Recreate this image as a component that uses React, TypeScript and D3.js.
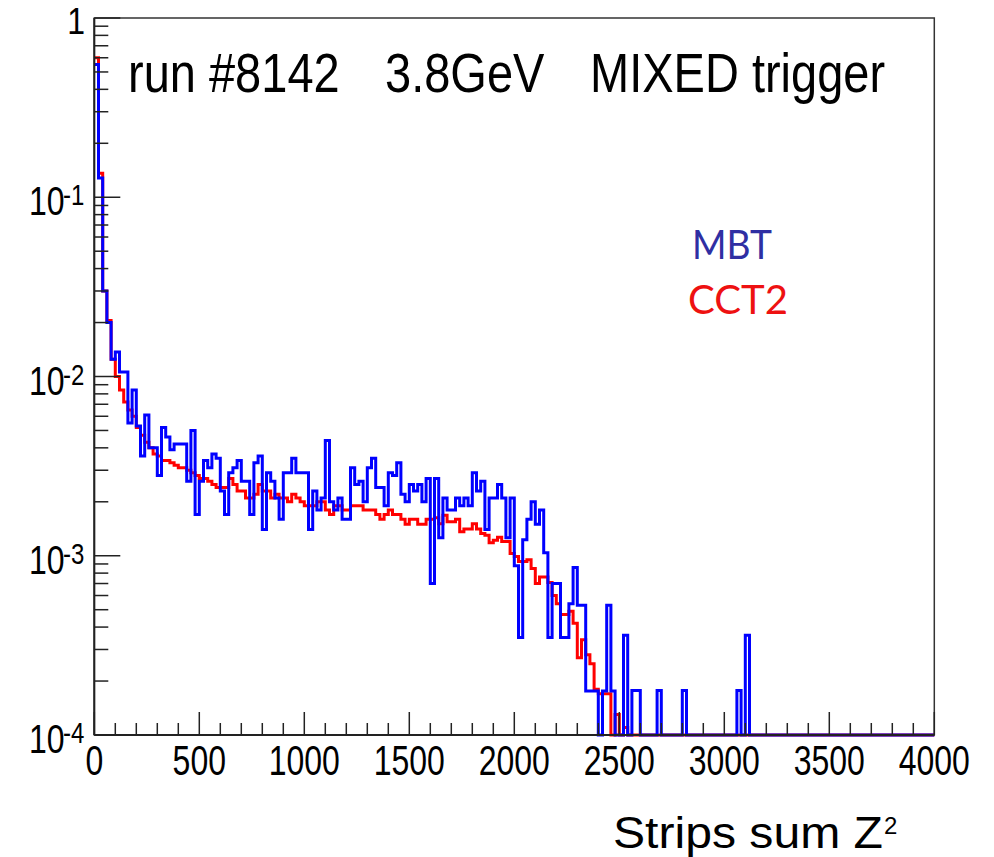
import React from "react";
import * as d3 from "d3";

// ---- data ----
const BIN_WIDTH = 20;
const X_MAX = 4000;
const X_MAJOR = [0, 500, 1000, 1500, 2000, 2500, 3000, 3500, 4000];
const Y_DECADES = [1, 0.1, 0.01, 0.001, 0.0001];
const Y_EXPONENTS = ["0", "-1", "-2", "-3", "-4"];
const TITLE_PARTS = ["run #8142", "3.8GeV", "MIXED trigger"];
const LEGEND = ["MBT", "CCT2"];

// MBT (blue), normalised counts per 20-unit bin starting at 0
const mbt = [
  0.55, 0.128, 0.030, 0.020, 0.0125, 0.0137, 0.0106, 0.0106, 0.0055, 0.0084,
  0.0053, 0.0036, 0.0061, 0.0040, 0.0040, 0.0028, 0.0052, 0.0046, 0.0039, 0.0042,
  0.0042, 0.0042, 0.0026, 0.0050, 0.0017, 0.0026, 0.0034, 0.0031, 0.0037, 0.0035,
  0.0023, 0.0017, 0.0029, 0.0031, 0.0034, 0.0026, 0.0026, 0.0017, 0.0033, 0.0036,
  0.0014, 0.0029, 0.0026, 0.0021, 0.0016, 0.0029, 0.0029, 0.0035, 0.0029, 0.0029,
  0.0029, 0.0014, 0.0023, 0.0018, 0.0021, 0.0044, 0.0020, 0.0018, 0.0021, 0.0016,
  0.0016, 0.0031, 0.0025, 0.0026, 0.0020, 0.0031, 0.0035, 0.0024, 0.0024, 0.0019,
  0.0029, 0.0028, 0.0033, 0.0022, 0.0020, 0.0025, 0.0023, 0.0025, 0.0020, 0.0027,
  0.00070, 0.0027, 0.00126, 0.0021, 0.0018, 0.0018, 0.0021, 0.0019, 0.0021, 0.0019,
  0.0029, 0.0023, 0.0026, 0.0014, 0.0021, 0.0021, 0.0025, 0.0021, 0.00126, 0.0021,
  0.00088, 0.00035, 0.00123, 0.0016, 0.0020, 0.0015, 0.0018, 0.00104, 0.00035, 0.00070,
  0.00070, 0.00035, 0.00035, 0.00054, 0.00086, 0.00053, 0.00053, 0.000176, 0.000176, 0.000176,
  0, 0.000176, 0.00053, 0.000176, 0, 0, 0.00036, 0, 0.000177, 0.000177,
  0, 0, 0, 0, 0.000177, 0, 0, 0, 0, 0,
  0.000177, 0, 0, 0, 0, 0, 0, 0, 0, 0,
  0, 0, 0, 0.000177, 0, 0.00036, 0,
];

// CCT2 (red)
const cct2 = [
  0.60, 0.136, 0.030, 0.0205, 0.0125, 0.0100, 0.0084, 0.0072, 0.0065, 0.0060,
  0.0052, 0.0047, 0.0043, 0.0040, 0.0037, 0.0036, 0.0034, 0.0034, 0.0033, 0.0032,
  0.0031, 0.0031, 0.0030, 0.0029, 0.0028, 0.0027, 0.0027, 0.0026, 0.0025, 0.0024,
  0.0024, 0.0024, 0.0027, 0.0025, 0.0023, 0.0023, 0.0021, 0.0021, 0.0022, 0.0025,
  0.0023, 0.0023, 0.0021, 0.0022, 0.0021, 0.0021, 0.0020, 0.0022, 0.0021, 0.0020,
  0.0019, 0.0019, 0.0019, 0.0020, 0.0020, 0.0018, 0.0017, 0.0019, 0.0019, 0.0018,
  0.0018, 0.0019, 0.0019, 0.0019, 0.0018, 0.0018, 0.0018, 0.0017, 0.0016, 0.0017,
  0.0018, 0.0017, 0.0017, 0.0016, 0.0015, 0.0016, 0.0016, 0.0015, 0.0015, 0.0016,
  0.0016, 0.00163, 0.00151, 0.00168, 0.00155, 0.00155, 0.0016, 0.00136, 0.00141, 0.00141,
  0.00151, 0.00141, 0.00133, 0.0013, 0.00118, 0.00122, 0.00127, 0.0012, 0.0012, 0.00103,
  0.00099, 0.00093, 0.00093, 0.00095, 0.00085, 0.00070, 0.00076, 0.00076, 0.00071, 0.00060,
  0.00054, 0.00047, 0.00047, 0.00049, 0.00042, 0.00027, 0.00034, 0.00028, 0.00025, 0.00018,
  0.00017, 0.00017, 0.00017, 0, 0.00013, 0, 0.00011, 0,
];

const W = 994;
const H = 857;
const FONT = "'Liberation Sans', Arial, Helvetica, sans-serif";

function StretchText({ x, y, k = 1, children, ...rest }: any) {
  return (
    <text transform={`translate(${x},${y}) scale(1,${k})`} {...rest}>
      {children}
    </text>
  );
}

export default function App() {
  const x = d3.scaleLinear().domain([0, X_MAX]).range([94.3, 934.3]);
  const y = d3.scaleLog().domain([1e-4, 1]).range([735, 18]);
  const floor = 1e-4;

  const histPath = (vals: number[]) => {
    const pts: [number, number][] = [];
    vals.forEach((v, i) => {
      const vv = Math.max(v, floor);
      pts.push([x(i * BIN_WIDTH), y(vv)]);
      pts.push([x((i + 1) * BIN_WIDTH), y(vv)]);
    });
    pts.push([x(X_MAX), y(floor)]);
    return d3.line()(pts) as string;
  };

  const xMinor = d3.range(0, X_MAX + 1, 100);
  const yMinor: number[] = [];
  Y_DECADES.slice(1).forEach((d) => {
    for (let m = 2; m <= 9; m++) yMinor.push(d * m);
  });

  const [x0, x1] = x.range();
  const [yb, yt] = y.range();

  return (
    <svg
      width={W}
      height={H}
      style={{ position: "absolute", left: 0, top: 0, background: "#fff" }}
      fontFamily={FONT}
    >
      <rect x={0} y={0} width={W} height={H} fill="#fff" />
      {/* histograms */}
      <path d={histPath(cct2)} fill="none" stroke="#ff0000" strokeWidth={3} />
      <path d={histPath(mbt)} fill="none" stroke="#0000ff" strokeWidth={3} />

      {/* frame */}
      <rect x={x0} y={yt} width={x1 - x0} height={yb - yt} fill="none" stroke="#333" strokeWidth={1.5} />
      <line x1={x0} x2={x0} y1={yt} y2={yb} stroke="#222" strokeWidth={2} />
      <line x1={x0} x2={x1} y1={yb} y2={yb} stroke="#222" strokeWidth={2} />

      {/* y ticks */}
      {Y_DECADES.map((d) => (
        <line key={"ym" + d} x1={x0} x2={x0 + 26} y1={y(d)} y2={y(d)} stroke="#222" strokeWidth={1.5} />
      ))}
      {yMinor.map((d) => (
        <line key={"yn" + d} x1={x0} x2={x0 + 14} y1={y(d)} y2={y(d)} stroke="#222" strokeWidth={1.5} />
      ))}
      {/* x ticks */}
      {xMinor.map((v) => (
        <line
          key={"xt" + v}
          x1={x(v)}
          x2={x(v)}
          y1={yb}
          y2={yb - (v % 500 === 0 ? 23 : 12)}
          stroke="#222"
          strokeWidth={1.5}
        />
      ))}

      {/* x tick labels */}
      {X_MAJOR.map((v) => (
        <StretchText key={"xl" + v} x={x(v)} y={775} k={1.3} fontSize={32} textAnchor="middle" fill="#000">
          {v}
        </StretchText>
      ))}

      {/* y tick labels */}
      {Y_DECADES.map((d, i) =>
        i === 0 ? (
          <StretchText key="yl0" x={85} y={y(d) + 16} k={1.15} fontSize={32} textAnchor="end" fill="#000">
            1
          </StretchText>
        ) : (
          <g key={"yl" + i}>
            <StretchText x={64.5} y={y(d) + 18} k={1.27} fontSize={32} textAnchor="end" fill="#000">
              10
            </StretchText>
            <StretchText x={63} y={y(d) + 8} k={1.25} fontSize={24} textAnchor="start" fill="#000">
              {Y_EXPONENTS[i]}
            </StretchText>
          </g>
        )
      )}

      {/* title */}
      <StretchText x={128} y={92} k={1.2} fontSize={47} fill="#000">{TITLE_PARTS[0]}</StretchText>
      <StretchText x={385} y={92} k={1.2} fontSize={47} fill="#000">{TITLE_PARTS[1]}</StretchText>
      <StretchText x={590} y={92} k={1.2} fontSize={47} fill="#000">{TITLE_PARTS[2]}</StretchText>

      {/* legend */}
      <text x={692} y={259} fontSize={41} fontFamily="Lato, 'Open Sans', sans-serif" fill="#2f2fa3" textLength={80} lengthAdjust="spacingAndGlyphs">
        {LEGEND[0]}
      </text>
      <text x={688} y={314} fontSize={41} fontFamily="Lato, 'Open Sans', sans-serif" fill="#ee1111" textLength={100} lengthAdjust="spacingAndGlyphs">
        {LEGEND[1]}
      </text>

      {/* x axis title */}
      <text x={613} y={848} fontSize={44} fill="#000" textLength={270} lengthAdjust="spacingAndGlyphs">
        Strips sum Z
      </text>
      <text x={884} y={834} fontSize={24} fill="#000">2</text>
    </svg>
  );
}
